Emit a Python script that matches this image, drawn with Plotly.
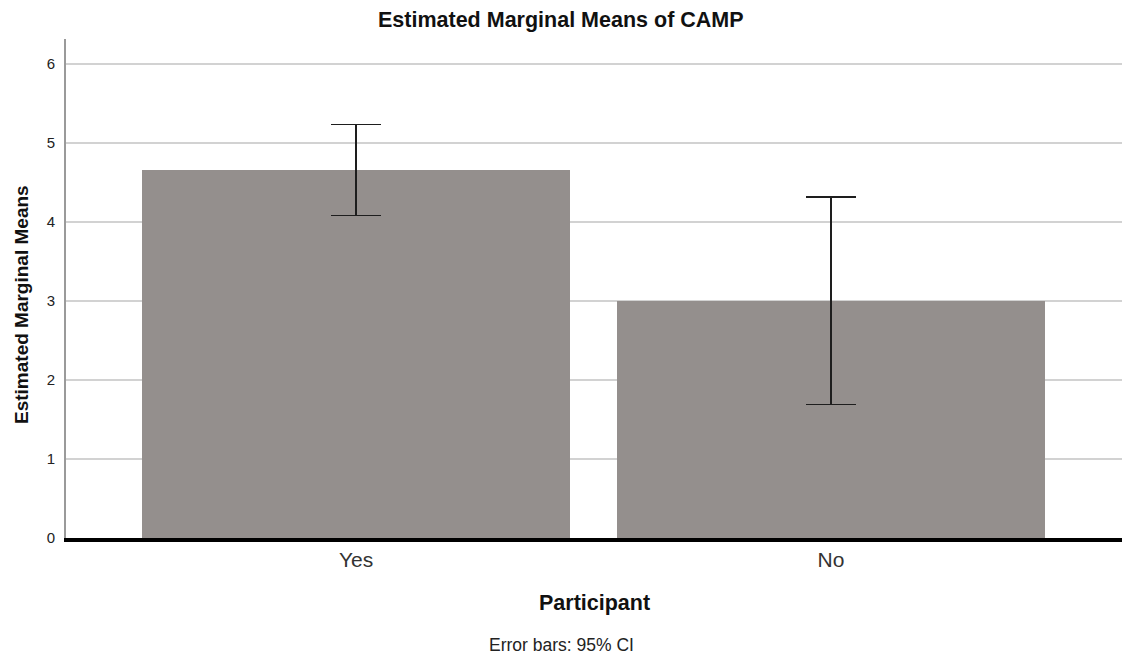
import plotly.graph_objects as go

# Estimated marginal means of CAMP by participant group, with 95% CI
categories = ["Yes", "No"]
means = [4.65, 3.00]
ci_lower = [4.08, 1.69]
ci_upper = [5.23, 4.31]
y_ticks = [0, 1, 2, 3, 4, 5, 6]

err_plus = [u - m for u, m in zip(ci_upper, means)]
err_minus = [m - l for m, l in zip(means, ci_lower)]

FONT = "Liberation Sans, Arial, sans-serif"

fig = go.Figure()
fig.add_trace(go.Bar(
    x=[0, 1],
    y=means,
    width=0.9,
    marker=dict(color="#948f8d", line=dict(width=0)),
    error_y=dict(
        type="data", symmetric=False,
        array=err_plus, arrayminus=err_minus,
        color="#1e1e1e", thickness=1.6, width=25,
    ),
    hoverinfo="skip",
))

fig.update_layout(
    width=1125, height=656,
    margin=dict(l=66, r=3, t=39, b=118),
    paper_bgcolor="white", plot_bgcolor="white",
    showlegend=False,
    bargap=0,
    font=dict(family=FONT, color="#222"),
    xaxis=dict(
        range=[-0.611, 1.613],
        tickmode="array", tickvals=[0, 1], ticktext=categories,
        tickfont=dict(size=21, color="#333"),
        showgrid=False, zeroline=False,
        showline=True, linecolor="black", linewidth=4,
        ticks="", ticklabelstandoff=0,
    ),
    yaxis=dict(
        range=[0, 6.31],
        tickmode="array", tickvals=y_ticks,
        tickfont=dict(size=15, color="#222"),
        showgrid=True, gridcolor="#d2d2d2", gridwidth=1.5,
        zeroline=False,
        showline=True, linecolor="#9a9a9a", linewidth=2,
        ticks="", ticklabelstandoff=6,
    ),
    annotations=[
        dict(text="<b>Estimated Marginal Means of CAMP</b>", x=0.5, y=21,
             xref="paper", yref="paper", showarrow=False,
             font=dict(size=21.5, color="#111")),
        dict(text="<b>Participant</b>", x=0.5, y=0, xref="paper", yref="paper",
             showarrow=False, font=dict(size=21.5, color="#111")),
        dict(text="Error bars: 95% CI", x=0.5, y=0, xref="paper", yref="paper",
             showarrow=False, font=dict(size=17.5, color="#222")),
        dict(text="<b>Estimated Marginal Means</b>", x=0, y=0.5,
             xref="paper", yref="paper", textangle=-90, showarrow=False,
             font=dict(size=19, color="#111")),
    ],
)

# Place the text blocks in pixel terms relative to the plot area
plot_h = 656 - 39 - 118
plot_w = 1125 - 66 - 3
anns = list(fig.layout.annotations)
anns[0].update(x=(561 - 66) / plot_w, y=1 + (39 - 20) / plot_h, yanchor="middle")
anns[1].update(y=-(603 - 538) / plot_h, yanchor="middle")
anns[2].update(x=(561 - 66) / plot_w, y=-(645 - 538) / plot_h, yanchor="middle")
anns[3].update(x=-(66 - 21) / plot_w, xanchor="center",
               y=(538 - 305) / plot_h, yanchor="middle")
fig.layout.annotations = anns

fig.write_html("out.html")
